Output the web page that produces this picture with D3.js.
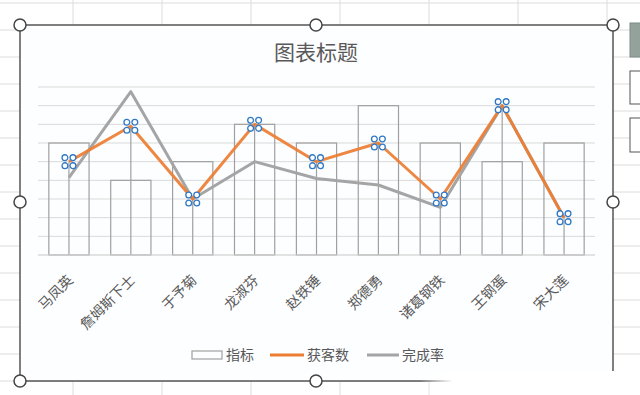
<!DOCTYPE html>
<html>
<head>
<meta charset="utf-8">
<script src="https://cdn.jsdelivr.net/npm/d3@7"></script>
<style>
  body { margin: 0; background: #fff; }
  svg { display: block; font-family: "Noto Sans CJK SC", "Noto Sans", sans-serif; }
</style>
</head>
<body>
<script>
/* DATA */
var categories = ['马凤英', '詹姆斯下士', '于予菊', '龙淑芬', '赵铁锤', '郑德勇', '诸葛钢铁', '王钢蛋', '宋大莲'];
var targetValues = [6, 4, 5, 7, 6, 8, 6, 5, 6];              // 指标
var customerValues = [5, 6.9, 3, 7, 5, 6, 3, 8, 2];           // 获客数
var rateValues = [0.83, 1.75, 0.6, 1.0, 0.82, 0.75, 0.51, 1.6, 0.4]; // 完成率
var legendLabels = ['指标', '获客数', '完成率'];
var chartTitle = '图表标题';

/* SIZES */
var width = 640, height = 395;
var plotLeft = 38, plotRight = 595, plotTop = 87, plotBottom = 255;

var textColor = '#595959';
var barColor = '#a0a0a0';
var orangeColor = '#ED7D31';
var grayColor = '#A5A5A5';
var gridColor = '#d9d9d9';

const svg = d3.select('body').append('svg')
    .attr('width', width)
    .attr('height', height);

// spreadsheet cells behind the chart
const sheet = svg.append('g').attr('class', 'sheet');
d3.range(73, width, 89).forEach(x => {
    sheet.append('line').attr('x1', x).attr('x2', x).attr('y1', 0).attr('y2', height)
        .attr('stroke', '#dcdcdc').attr('stroke-width', 1);
});
d3.range(3, height, 27).forEach(y => {
    sheet.append('line').attr('x1', 0).attr('x2', width).attr('y1', y).attr('y2', y)
        .attr('stroke', '#dcdcdc').attr('stroke-width', 1);
});

// side buttons at right edge
svg.append('rect').attr('x', 630).attr('y', 23).attr('width', 20).attr('height', 34)
    .attr('fill', '#93a39c').attr('stroke', '#7d8b85');
svg.append('rect').attr('x', 630).attr('y', 71).attr('width', 20).attr('height', 33)
    .attr('fill', '#fff').attr('stroke', '#555');
svg.append('rect').attr('x', 630).attr('y', 118).attr('width', 20).attr('height', 34)
    .attr('fill', '#fff').attr('stroke', '#555');

// chart area
svg.append('rect')
    .attr('x', 20).attr('y', 25).attr('width', 593).attr('height', 356)
    .attr('fill', '#fdfeff');

/* SCALES */
const x = d3.scalePoint()
    .domain(categories)
    .range([plotLeft, plotRight])
    .padding(0.5);
const barWidth = x.step() * 0.65;

const y = d3.scaleLinear().domain([0, 9]).range([plotBottom, plotTop]);
const y2 = d3.scaleLinear().domain([0, 1.8]).range([plotBottom, plotTop]);

// horizontal gridlines
svg.append('g').selectAll('line')
    .data(y.ticks(9))
    .join('line')
    .attr('x1', plotLeft).attr('x2', plotRight)
    .attr('y1', d => y(d)).attr('y2', d => y(d))
    .attr('stroke', gridColor).attr('stroke-width', 1);

// hollow bars
svg.append('g').selectAll('rect')
    .data(targetValues)
    .join('rect')
    .attr('x', (d, i) => x(categories[i]) - barWidth / 2)
    .attr('y', d => y(d))
    .attr('width', barWidth)
    .attr('height', d => plotBottom - y(d))
    .attr('fill', 'none')
    .attr('stroke', barColor)
    .attr('stroke-width', 1.2);

// drop lines from orange points
svg.append('g').selectAll('line')
    .data(customerValues)
    .join('line')
    .attr('x1', (d, i) => x(categories[i])).attr('x2', (d, i) => x(categories[i]))
    .attr('y1', d => y(d)).attr('y2', plotBottom)
    .attr('stroke', barColor).attr('stroke-width', 1.2);

// axis line
svg.append('line')
    .attr('x1', plotLeft).attr('x2', plotRight)
    .attr('y1', plotBottom).attr('y2', plotBottom)
    .attr('stroke', gridColor).attr('stroke-width', 1);

// lines
const rateLine = d3.line()
    .x((d, i) => x(categories[i]))
    .y(d => y2(d));
const customerLine = d3.line()
    .x((d, i) => x(categories[i]))
    .y(d => y(d));

svg.append('path')
    .datum(rateValues)
    .attr('d', rateLine)
    .attr('fill', 'none')
    .attr('stroke', grayColor)
    .attr('stroke-width', 3)
    .attr('stroke-linejoin', 'round');

svg.append('path')
    .datum(customerValues)
    .attr('d', customerLine)
    .attr('fill', 'none')
    .attr('stroke', orangeColor)
    .attr('stroke-width', 3)
    .attr('stroke-linejoin', 'round')
    .attr('opacity', 0.92);

// selection handles on orange series
const handleGroups = svg.append('g').selectAll('g')
    .data(customerValues)
    .join('g')
    .attr('transform', (d, i) => `translate(${x(categories[i])}, ${y(d)})`);
[[-4, -4], [4, -4], [-4, 4], [4, 4]].forEach(o => {
    handleGroups.append('circle')
        .attr('cx', o[0]).attr('cy', o[1]).attr('r', 2.9)
        .attr('fill', '#fff')
        .attr('stroke', '#2f78c4')
        .attr('stroke-width', 1.3);
});

// title
svg.append('text')
    .attr('x', 316).attr('y', 60)
    .attr('text-anchor', 'middle')
    .attr('fill', textColor)
    .style('font-size', '21px')
    .text(chartTitle);

// category labels
svg.append('g').selectAll('text')
    .data(categories)
    .join('text')
    .attr('transform', d => `translate(${x(d) + 5}, ${281}) rotate(-45)`)
    .attr('text-anchor', 'end')
    .attr('fill', textColor)
    .style('font-size', '14px')
    .text(d => d);

// legend
const legend = svg.append('g').attr('transform', 'translate(0, 355)');
legend.append('rect').attr('x', 192).attr('y', -4).attr('width', 30).attr('height', 8)
    .attr('fill', 'none').attr('stroke', barColor).attr('stroke-width', 1.2);
legend.append('text').attr('x', 226).attr('y', 5).attr('fill', textColor)
    .style('font-size', '14px').text(legendLabels[0]);
legend.append('line').attr('x1', 270).attr('x2', 304).attr('y1', 0).attr('y2', 0)
    .attr('stroke', orangeColor).attr('stroke-width', 3);
legend.append('text').attr('x', 307).attr('y', 5).attr('fill', textColor)
    .style('font-size', '14px').text(legendLabels[1]);
legend.append('line').attr('x1', 367).attr('x2', 399).attr('y1', 0).attr('y2', 0)
    .attr('stroke', grayColor).attr('stroke-width', 3);
legend.append('text').attr('x', 402).attr('y', 5).attr('fill', textColor)
    .style('font-size', '14px').text(legendLabels[2]);

// selection frame
svg.append('rect')
    .attr('x', 20).attr('y', 25).attr('width', 593).attr('height', 356)
    .attr('fill', 'none').attr('stroke', '#555').attr('stroke-width', 1.5);
[[20, 25], [316, 25], [613, 25], [20, 202], [613, 202], [20, 381], [316, 381], [613, 381]].forEach(p => {
    svg.append('circle').attr('cx', p[0]).attr('cy', p[1]).attr('r', 6)
        .attr('fill', '#fff').attr('stroke', '#444').attr('stroke-width', 1.5);
});

// faded watermark strip bottom right
const grad = svg.append('defs').append('linearGradient').attr('id', 'fade')
    .attr('x1', '0%').attr('x2', '100%');
grad.append('stop').attr('offset', '0%').attr('stop-color', '#fff').attr('stop-opacity', 0);
grad.append('stop').attr('offset', '15%').attr('stop-color', '#fff').attr('stop-opacity', 1);
svg.append('rect').attr('x', 420).attr('y', 371).attr('width', 220).attr('height', 24)
    .attr('fill', 'url(#fade)');
</script>
</body>
</html>
